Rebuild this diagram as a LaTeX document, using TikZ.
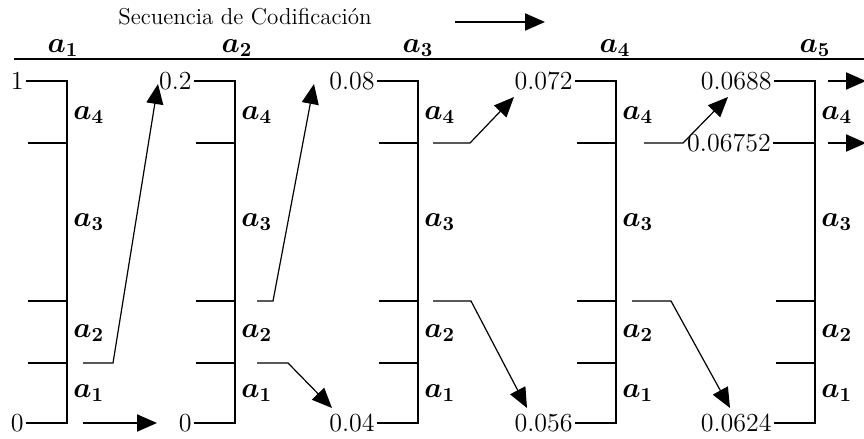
\documentclass[tikz,border=0pt]{standalone}
\usepackage{amsmath}
\usepackage{bm}
\usetikzlibrary{arrows.meta}
\tikzset{
  eje/.style={line width=1pt},
  regla/.style={line width=1.3pt},
  salto/.style={-{Triangle[length=10pt,width=8.5pt]},line width=0.6pt},
  valor/.style={inner sep=1pt,font=\fontsize{13}{15}\selectfont},
  simb/.style={inner sep=0pt,font=\fontsize{14}{16}\selectfont},
}
\newcommand{\simbolo}[1]{$\bm{a}_{\mathbf{#1}}$}

\begin{document}
\begin{tikzpicture}[x=0.5pt,y=-0.5pt]
  \useasboundingbox (0,0) rectangle (864,439);
  \node[inner sep=0pt,font=\fontsize{11.5}{13}\selectfont] (titulo) at (245,17) {Secuencia de Codificación};
  \coordinate (f0) at (455,22);
  \coordinate (f1) at (545,22);
  \draw[salto,line width=1pt] (f0) -- (f1);
  \foreach \k/\x in {1/63,2/237,3/418,4/615,5/815}
    \node[simb] (h\k) at (\x,48) {\simbolo{\k}};
  \draw[regla] (14,59) -- (864,59);

  % intervalos
  \foreach \c/\x/\vs/\vi in {1/67/1/0,2/235/0.2/0,3/418/0.08/0.04,4/616/0.072/0.056,5/815/0.0688/0.0624}{
    \node[valor,anchor=east] (s\c) at (\x-41,81) {\vs};
    \node[valor,anchor=east] (i\c) at (\x-41,423) {\vi};
    \draw[eje] (s\c.east) -| (\x,423) -- (i\c.east);
    \foreach \k/\y in {4/115,3/222,2/333,1/393}
      \node[simb,anchor=west] (l\c-\k) at (\x+6,\y) {\simbolo{\k}};
  }
  \foreach \x in {67,235,418,616}
    \draw[eje] (\x-39,143) -- (\x,143);
  \foreach \x in {67,235,418,616,815}{
    \draw[eje] (\x-39,301) -- (\x,301);
    \draw[eje] (\x-39,363) -- (\x,363);
  }
  \node[valor] (m5) at (729,143) {0.06752};
  \draw[eje] (m5.east) -- (815,143);

  % saltos
  \coordinate (p1) at (83,363);  \coordinate (q1) at (113,363); \coordinate (t1) at (158,84);
  \coordinate (p2) at (83,423);  \coordinate (t2) at (157,423);
  \coordinate (p3) at (257,301); \coordinate (q3) at (273,301); \coordinate (t3) at (314,84);
  \coordinate (p4) at (257,363); \coordinate (q4) at (288,363); \coordinate (t4) at (332,408);
  \coordinate (p5) at (433,143); \coordinate (q5) at (470,143); \coordinate (t5) at (514,97);
  \coordinate (p6) at (433,301); \coordinate (q6) at (471,301); \coordinate (t6) at (527,408);
  \coordinate (p7) at (644,143); \coordinate (q7) at (683,143); \coordinate (t7) at (728,97);
  \coordinate (p8) at (632,301); \coordinate (q8) at (671,301); \coordinate (t8) at (730,408);
  \coordinate (p9) at (828,81);  \coordinate (t9) at (866,81);
  \coordinate (p10) at (828,143); \coordinate (t10) at (866,143);
  \foreach \n in {1,3,4,5,6,7,8}
    \draw[salto] (p\n) -- (q\n) -- (t\n);
  \foreach \n in {2,9,10}
    \draw[salto,line width=1pt] (p\n) -- (t\n);
\end{tikzpicture}
\end{document}
